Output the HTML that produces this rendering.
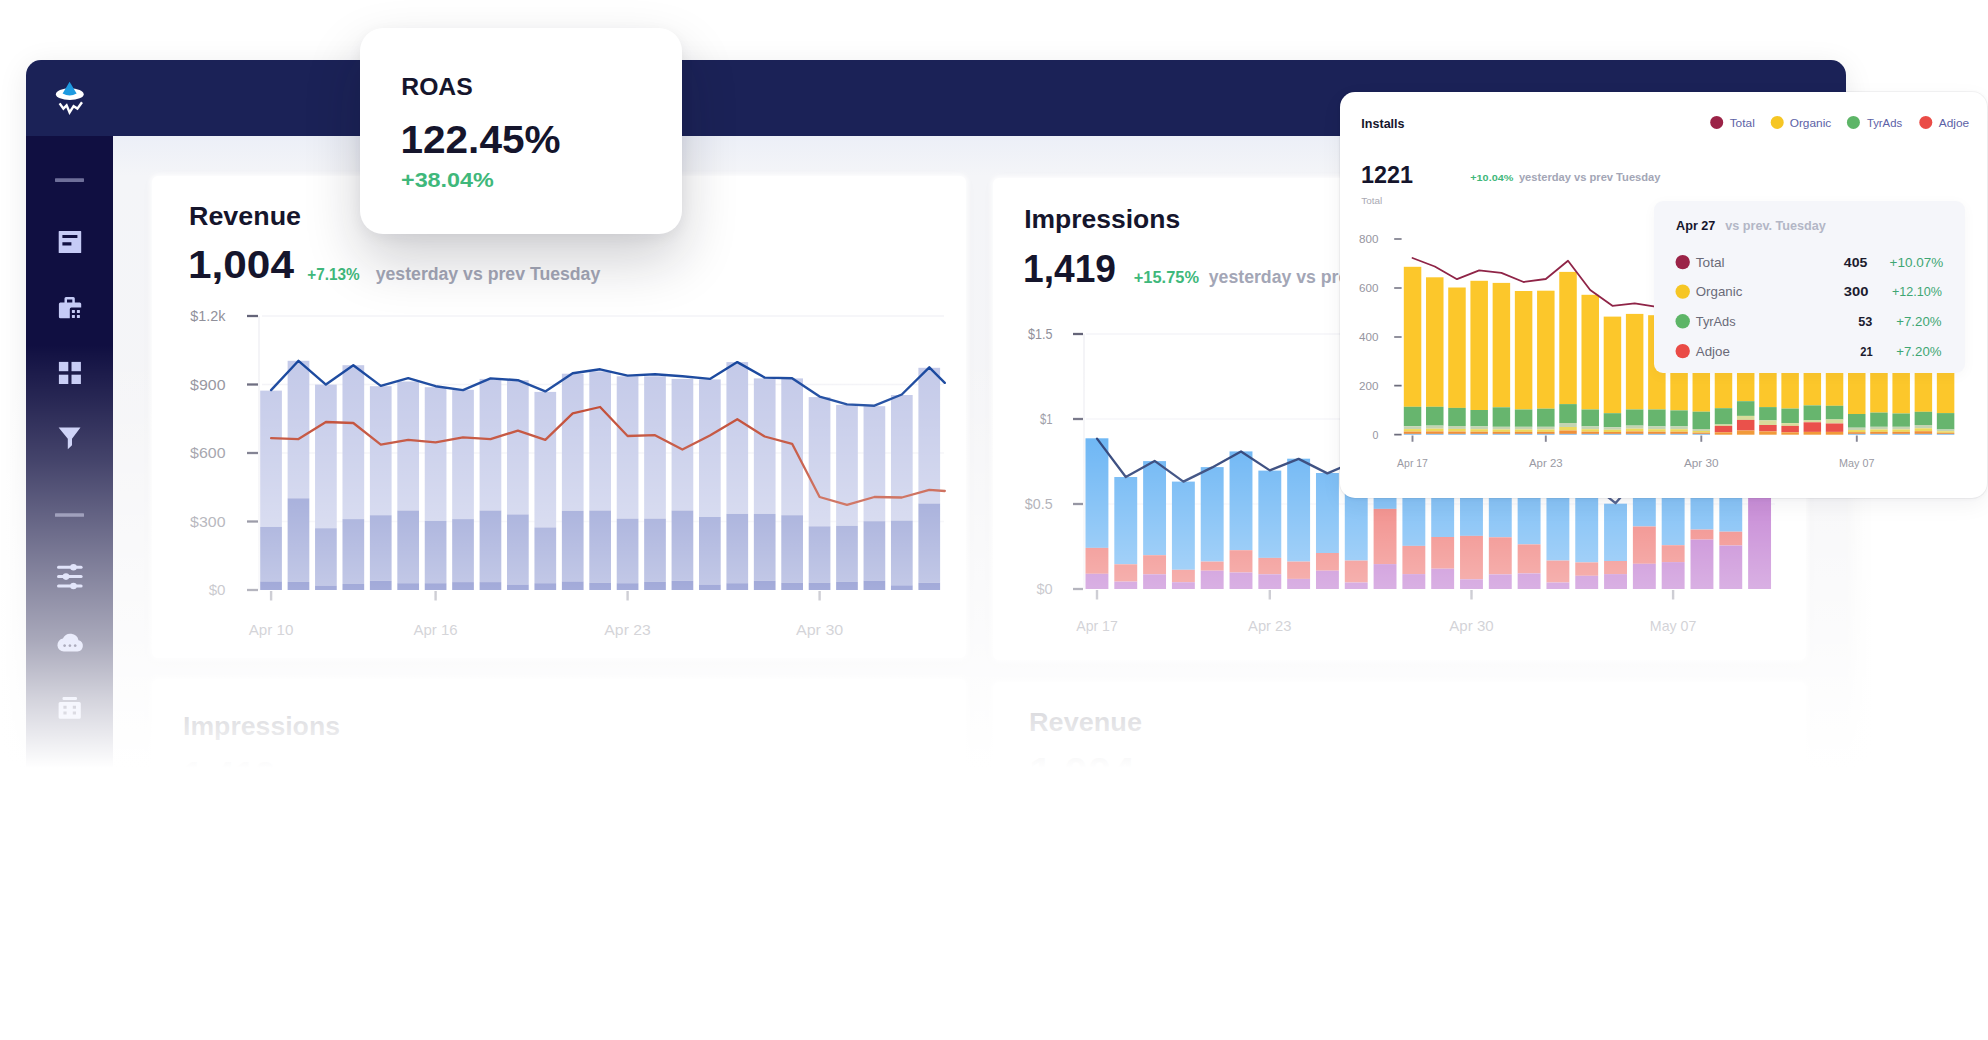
<!DOCTYPE html>
<html lang="en">
<head>
<meta charset="utf-8">
<title>Dashboard</title>
<style>
html,body{margin:0;padding:0}
body{width:1988px;height:1040px;position:relative;overflow:hidden;background:#fff;font-family:"Liberation Sans", sans-serif}
.abs{position:absolute}
svg{position:absolute;left:0;top:0;width:1988px;height:1040px;overflow:visible}
svg text{font-family:"Liberation Sans", sans-serif}
#frame{left:26px;top:60px;width:1820px;height:790px;border-radius:15px 15px 0 0;background:linear-gradient(to bottom,#ecEFf7 76px,#f4f5f8 116px,#f5f5f7 400px);overflow:hidden;
  box-shadow:0 6px 30px rgba(20,20,34,.085)}
#topbar{left:0;top:0;width:1820px;height:76px;background:#1b2257}
#side{left:0;top:76px;width:87px;height:720px;background:#100f41}
.card{background:#fff;border-radius:6px;box-shadow:0 0 5px 2px rgba(255,255,255,.9),0 2px 14px rgba(30,30,50,.03)}
#fade{left:0;top:0;width:1988px;height:1040px;
  background:linear-gradient(to bottom,rgba(255,255,255,0) 345px,rgba(255,255,255,.10) 400px,rgba(255,255,255,.22) 460px,rgba(255,255,255,.43) 550px,rgba(255,255,255,.64) 640px,rgba(255,255,255,.82) 700px,rgba(255,255,255,1) 768px)}
#roas{left:360px;top:28px;width:322px;height:206px;border-radius:23px;background:#fff;
  box-shadow:0 26px 56px rgba(20,20,36,.20),0 4px 14px rgba(20,20,36,.05)}
#inst{left:1340px;top:92px;width:647px;height:406px;border-radius:15px;background:#fff;
  box-shadow:0 7px 22px rgba(20,20,30,.05),0 1px 5px rgba(20,20,30,.045),0 0 0 1px rgba(20,20,40,.04)}
#tip{left:1654px;top:200.6px;width:311px;height:172.3px;border-radius:9px;background:#f5f6fa;
  box-shadow:0 3px 14px rgba(30,34,70,.035)}
</style>
</head>
<body>
<div id="frame" class="abs"><div id="topbar" class="abs"></div><div id="side" class="abs"></div></div>
<div class="abs card" style="left:152px;top:176px;width:814px;height:482px"></div>
<div class="abs card" style="left:992.5px;top:178px;width:813.5px;height:482px"></div>
<div class="abs card" style="left:152px;top:679px;width:814px;height:200px"></div>
<div class="abs card" style="left:992.5px;top:682px;width:813.5px;height:200px"></div>
<svg viewBox="0 0 1988 1040">
<ellipse cx="69.8" cy="94.2" rx="13.9" ry="5.9" fill="#ffffff"/>
<path d="M69.6 81.8 L76.6 93.6 Q69.6 97.6 62.6 93.6 Z" fill="#1e9ae0"/>
<path d="M59.6 103.4 L63.4 108.6 L66.6 105.4 L69.6 112.4 L73.6 106.2 L77.4 108.6 L82 102.2" fill="none" stroke="#fff" stroke-width="2.4" stroke-linejoin="miter" stroke-linecap="butt"/>
<rect x="55" y="178.3" width="29" height="3.6" rx=".6" fill="#6e6f99"/>
<rect x="55" y="513.2" width="29" height="3.6" rx=".6" fill="#6e6f99"/>
<path fill="#c6cbf6" fill-rule="evenodd" d="M59.3 230.9h21.3a.6.6 0 0 1 .6.6v20.9a.6.6 0 0 1-.6.6h-21.3a.6.6 0 0 1-.6-.6v-20.9a.6.6 0 0 1 .6-.6zM62.4 235.1v3h15v-3zM62.4 242.2v3.2h9v-3.2z"/>
<path fill="#c6cbf6" fill-rule="evenodd" d="M66 297h7.3a1.5 1.5 0 0 1 1.5 1.5v4h4.9a1.5 1.5 0 0 1 1.5 1.5v3.5h-9.9a1.5 1.5 0 0 0-1.5 1.5v9.3h-9.4a1.5 1.5 0 0 1-1.5-1.5v-12.8a1.5 1.5 0 0 1 1.5-1.5h4.1v-4a1.5 1.5 0 0 1 1.5-1.5zM67 299.4v3.1h5.3v-3.1z"/>
<rect x="71.9" y="309.9" width="3" height="3" rx=".4" fill="#c6cbf6"/>
<rect x="76.9" y="309.9" width="3" height="3" rx=".4" fill="#c6cbf6"/>
<rect x="71.9" y="314.9" width="3" height="3" rx=".4" fill="#c6cbf6"/>
<rect x="76.9" y="314.9" width="3" height="3" rx=".4" fill="#c6cbf6"/>
<rect x="58.9" y="361.9" width="9.4" height="9.3" fill="#c6cbf6"/>
<rect x="71.5" y="361.9" width="9.4" height="9.3" fill="#c6cbf6"/>
<rect x="58.9" y="374.7" width="9.4" height="9.3" fill="#c6cbf6"/>
<rect x="71.5" y="374.7" width="9.4" height="9.3" fill="#c6cbf6"/>
<path fill="#c6cbf6" d="M58.6 427.6H80.5L72 438.8V445.2L67.8 449.2V438.8Z"/>
<rect x="57" y="565.8" width="25.6" height="3" rx="1.5" fill="#c6cbf6"/>
<circle cx="73.5" cy="567.3" r="3.3" fill="#c6cbf6"/>
<rect x="57" y="575.1" width="25.6" height="3" rx="1.5" fill="#c6cbf6"/>
<circle cx="66" cy="576.6" r="3.3" fill="#c6cbf6"/>
<rect x="57" y="584.5" width="25.6" height="3" rx="1.5" fill="#c6cbf6"/>
<circle cx="73.5" cy="586" r="3.3" fill="#c6cbf6"/>
<path fill="#c6cbf6" fill-rule="evenodd" d="M63.8 651.6a6.6 6.6 0 0 1-.9-13.1 8.3 8.3 0 0 1 15.6 1.7 5.8 5.8 0 0 1-1 11.4zM64.6 644.2a1.4 1.4 0 1 0 .01 0zM69.9 644.2a1.4 1.4 0 1 0 .01 0zM75.2 644.2a1.4 1.4 0 1 0 .01 0z"/>
<rect x="62.5" y="697" width="14.5" height="3" rx="1.2" fill="#c6cbf6"/>
<path fill="#c6cbf6" fill-rule="evenodd" d="M60.2 702h19a1.6 1.6 0 0 1 1.6 1.6v13.6a1.6 1.6 0 0 1-1.6 1.6h-19a1.6 1.6 0 0 1-1.6-1.6v-13.6a1.6 1.6 0 0 1 1.6-1.6zM63.4 705.8v3h3.2v-3zM72.8 705.8v3h3.2v-3zM63.4 711.6v3h3.2v-3zM72.8 711.6v3h3.2v-3z"/>
<line x1="262" x2="944" y1="316" y2="316" stroke="#f3f3f7" stroke-width="1.5"/>
<line x1="262" x2="944" y1="384.5" y2="384.5" stroke="#f3f3f7" stroke-width="1.5"/>
<line x1="262" x2="944" y1="453" y2="453" stroke="#f3f3f7" stroke-width="1.5"/>
<line x1="262" x2="944" y1="521.5" y2="521.5" stroke="#f3f3f7" stroke-width="1.5"/>
<line x1="259" x2="259" y1="316" y2="590" stroke="#f0f0f4" stroke-width="1.5"/>
<rect x="260.20" y="390.60" width="21.70" height="136.30" fill="#c2c8e8"/>
<rect x="260.20" y="526.90" width="21.70" height="54.50" fill="#838fcd"/>
<rect x="260.20" y="581.40" width="21.70" height="8.60" fill="#4353b2"/>
<rect x="287.62" y="360.80" width="21.70" height="137.50" fill="#c2c8e8"/>
<rect x="287.62" y="498.30" width="21.70" height="83.60" fill="#838fcd"/>
<rect x="287.62" y="581.90" width="21.70" height="8.10" fill="#4353b2"/>
<rect x="315.05" y="384.60" width="21.70" height="143.60" fill="#c2c8e8"/>
<rect x="315.05" y="528.20" width="21.70" height="57.30" fill="#838fcd"/>
<rect x="315.05" y="585.50" width="21.70" height="4.50" fill="#4353b2"/>
<rect x="342.48" y="365.20" width="21.70" height="153.90" fill="#c2c8e8"/>
<rect x="342.48" y="519.10" width="21.70" height="64.90" fill="#838fcd"/>
<rect x="342.48" y="584.00" width="21.70" height="6.00" fill="#4353b2"/>
<rect x="369.90" y="386.20" width="21.70" height="129.00" fill="#c2c8e8"/>
<rect x="369.90" y="515.20" width="21.70" height="65.60" fill="#838fcd"/>
<rect x="369.90" y="580.80" width="21.70" height="9.20" fill="#4353b2"/>
<rect x="397.32" y="381.50" width="21.70" height="129.00" fill="#c2c8e8"/>
<rect x="397.32" y="510.50" width="21.70" height="72.70" fill="#838fcd"/>
<rect x="397.32" y="583.20" width="21.70" height="6.80" fill="#4353b2"/>
<rect x="424.75" y="387.20" width="21.70" height="133.70" fill="#c2c8e8"/>
<rect x="424.75" y="520.90" width="21.70" height="62.30" fill="#838fcd"/>
<rect x="424.75" y="583.20" width="21.70" height="6.80" fill="#4353b2"/>
<rect x="452.17" y="389.80" width="21.70" height="129.30" fill="#c2c8e8"/>
<rect x="452.17" y="519.10" width="21.70" height="63.00" fill="#838fcd"/>
<rect x="452.17" y="582.10" width="21.70" height="7.90" fill="#4353b2"/>
<rect x="479.60" y="378.90" width="21.70" height="131.60" fill="#c2c8e8"/>
<rect x="479.60" y="510.50" width="21.70" height="71.60" fill="#838fcd"/>
<rect x="479.60" y="582.10" width="21.70" height="7.90" fill="#4353b2"/>
<rect x="507.02" y="380.20" width="21.70" height="134.20" fill="#c2c8e8"/>
<rect x="507.02" y="514.40" width="21.70" height="70.10" fill="#838fcd"/>
<rect x="507.02" y="584.50" width="21.70" height="5.50" fill="#4353b2"/>
<rect x="534.45" y="391.90" width="21.70" height="135.50" fill="#c2c8e8"/>
<rect x="534.45" y="527.40" width="21.70" height="55.80" fill="#838fcd"/>
<rect x="534.45" y="583.20" width="21.70" height="6.80" fill="#4353b2"/>
<rect x="561.88" y="373.70" width="21.70" height="137.10" fill="#c2c8e8"/>
<rect x="561.88" y="510.80" width="21.70" height="70.60" fill="#838fcd"/>
<rect x="561.88" y="581.40" width="21.70" height="8.60" fill="#4353b2"/>
<rect x="589.30" y="371.40" width="21.70" height="139.10" fill="#c2c8e8"/>
<rect x="589.30" y="510.50" width="21.70" height="72.40" fill="#838fcd"/>
<rect x="589.30" y="582.90" width="21.70" height="7.10" fill="#4353b2"/>
<rect x="616.73" y="376.30" width="21.70" height="142.30" fill="#c2c8e8"/>
<rect x="616.73" y="518.60" width="21.70" height="64.60" fill="#838fcd"/>
<rect x="616.73" y="583.20" width="21.70" height="6.80" fill="#4353b2"/>
<rect x="644.15" y="376.30" width="21.70" height="142.30" fill="#c2c8e8"/>
<rect x="644.15" y="518.60" width="21.70" height="63.30" fill="#838fcd"/>
<rect x="644.15" y="581.90" width="21.70" height="8.10" fill="#4353b2"/>
<rect x="671.58" y="378.90" width="21.70" height="131.60" fill="#c2c8e8"/>
<rect x="671.58" y="510.50" width="21.70" height="70.30" fill="#838fcd"/>
<rect x="671.58" y="580.80" width="21.70" height="9.20" fill="#4353b2"/>
<rect x="699.00" y="379.40" width="21.70" height="137.60" fill="#c2c8e8"/>
<rect x="699.00" y="517.00" width="21.70" height="67.50" fill="#838fcd"/>
<rect x="699.00" y="584.50" width="21.70" height="5.50" fill="#4353b2"/>
<rect x="726.42" y="362.10" width="21.70" height="151.80" fill="#c2c8e8"/>
<rect x="726.42" y="513.90" width="21.70" height="69.30" fill="#838fcd"/>
<rect x="726.42" y="583.20" width="21.70" height="6.80" fill="#4353b2"/>
<rect x="753.85" y="378.40" width="21.70" height="135.50" fill="#c2c8e8"/>
<rect x="753.85" y="513.90" width="21.70" height="66.90" fill="#838fcd"/>
<rect x="753.85" y="580.80" width="21.70" height="9.20" fill="#4353b2"/>
<rect x="781.28" y="378.40" width="21.70" height="136.80" fill="#c2c8e8"/>
<rect x="781.28" y="515.20" width="21.70" height="67.70" fill="#838fcd"/>
<rect x="781.28" y="582.90" width="21.70" height="7.10" fill="#4353b2"/>
<rect x="808.70" y="397.10" width="21.70" height="129.20" fill="#c2c8e8"/>
<rect x="808.70" y="526.30" width="21.70" height="56.60" fill="#838fcd"/>
<rect x="808.70" y="582.90" width="21.70" height="7.10" fill="#4353b2"/>
<rect x="836.12" y="404.90" width="21.70" height="120.90" fill="#c2c8e8"/>
<rect x="836.12" y="525.80" width="21.70" height="56.10" fill="#838fcd"/>
<rect x="836.12" y="581.90" width="21.70" height="8.10" fill="#4353b2"/>
<rect x="863.55" y="406.20" width="21.70" height="115.00" fill="#c2c8e8"/>
<rect x="863.55" y="521.20" width="21.70" height="59.40" fill="#838fcd"/>
<rect x="863.55" y="580.60" width="21.70" height="9.40" fill="#4353b2"/>
<rect x="890.97" y="395.00" width="21.70" height="125.60" fill="#c2c8e8"/>
<rect x="890.97" y="520.60" width="21.70" height="64.70" fill="#838fcd"/>
<rect x="890.97" y="585.30" width="21.70" height="4.70" fill="#4353b2"/>
<rect x="918.40" y="367.80" width="21.70" height="135.70" fill="#c2c8e8"/>
<rect x="918.40" y="503.50" width="21.70" height="79.20" fill="#838fcd"/>
<rect x="918.40" y="582.70" width="21.70" height="7.30" fill="#4353b2"/>
<polyline points="271.1,438.1 298.5,439.1 325.9,422.0 353.3,423.0 380.8,444.6 408.2,439.9 435.6,442.3 463.0,437.3 490.5,439.1 517.9,430.6 545.3,439.9 572.7,413.4 600.1,407.0 627.6,436.0 655.0,435.2 682.4,449.5 709.9,435.5 737.3,419.2 764.7,436.5 792.1,443.8 819.6,497.0 847.0,504.8 874.4,497.0 901.8,497.5 929.3,489.8 944.8,491.0" fill="none" stroke="#bb381f" stroke-width="2.3" stroke-linejoin="round" stroke-linecap="round"/>
<polyline points="271.1,390.1 298.5,360.8 325.9,384.6 353.3,365.2 380.8,385.9 408.2,378.2 435.6,386.2 463.0,390.1 490.5,378.4 517.9,380.2 545.3,391.4 572.7,373.2 600.1,369.3 627.6,375.6 655.0,374.3 682.4,376.3 709.9,378.9 737.3,362.1 764.7,377.6 792.1,378.2 819.6,396.6 847.0,404.4 874.4,405.7 901.8,394.5 929.3,367.3 944.8,382.8" fill="none" stroke="#10409a" stroke-width="2.4" stroke-linejoin="round" stroke-linecap="round"/>
<text x="190.3" y="321.0" font-size="14.3" font-weight="400" fill="#90909a" text-anchor="start" textLength="35.2" lengthAdjust="spacingAndGlyphs">$1.2k</text>
<line x1="247" x2="258" y1="316" y2="316" stroke="#646478" stroke-width="2.3"/>
<text x="190.1" y="389.5" font-size="14.3" font-weight="400" fill="#90909a" text-anchor="start" textLength="35.4" lengthAdjust="spacingAndGlyphs">$900</text>
<line x1="247" x2="258" y1="384.5" y2="384.5" stroke="#646478" stroke-width="2.3"/>
<text x="190.1" y="458.0" font-size="14.3" font-weight="400" fill="#90909a" text-anchor="start" textLength="35.4" lengthAdjust="spacingAndGlyphs">$600</text>
<line x1="247" x2="258" y1="453" y2="453" stroke="#646478" stroke-width="2.3"/>
<text x="190.1" y="526.5" font-size="14.3" font-weight="400" fill="#90909a" text-anchor="start" textLength="35.4" lengthAdjust="spacingAndGlyphs">$300</text>
<line x1="247" x2="258" y1="521.5" y2="521.5" stroke="#646478" stroke-width="2.3"/>
<text x="208.7" y="595.0" font-size="14.3" font-weight="400" fill="#90909a" text-anchor="start" textLength="16.8" lengthAdjust="spacingAndGlyphs">$0</text>
<line x1="247" x2="258" y1="590" y2="590" stroke="#646478" stroke-width="2.3"/>
<line x1="271.1" x2="271.1" y1="591" y2="600.5" stroke="#9696a4" stroke-width="2.4"/>
<text x="271.1" y="634.5" font-size="14.3" font-weight="400" fill="#8f8f9a" text-anchor="middle" textLength="44.7" lengthAdjust="spacingAndGlyphs">Apr 10</text>
<line x1="435.6" x2="435.6" y1="591" y2="600.5" stroke="#9696a4" stroke-width="2.4"/>
<text x="435.6" y="634.5" font-size="14.3" font-weight="400" fill="#8f8f9a" text-anchor="middle" textLength="44.2" lengthAdjust="spacingAndGlyphs">Apr 16</text>
<line x1="627.6" x2="627.6" y1="591" y2="600.5" stroke="#9696a4" stroke-width="2.4"/>
<text x="627.6" y="634.5" font-size="14.3" font-weight="400" fill="#8f8f9a" text-anchor="middle" textLength="46.5" lengthAdjust="spacingAndGlyphs">Apr 23</text>
<line x1="819.6" x2="819.6" y1="591" y2="600.5" stroke="#9696a4" stroke-width="2.4"/>
<text x="819.6" y="634.5" font-size="14.3" font-weight="400" fill="#8f8f9a" text-anchor="middle" textLength="47.3" lengthAdjust="spacingAndGlyphs">Apr 30</text>
<line x1="1086" x2="1775" y1="334" y2="334" stroke="#f5f5f8" stroke-width="1.5"/>
<line x1="1086" x2="1775" y1="419" y2="419" stroke="#f5f5f8" stroke-width="1.5"/>
<line x1="1086" x2="1775" y1="504" y2="504" stroke="#f5f5f8" stroke-width="1.5"/>
<line x1="1084" x2="1084" y1="334" y2="589" stroke="#f0f0f4" stroke-width="1.5"/>
<rect x="1085.50" y="438.30" width="22.90" height="109.60" fill="#51a8f2"/>
<rect x="1085.50" y="547.90" width="22.90" height="25.90" fill="#ec5f5a"/>
<rect x="1085.50" y="573.80" width="22.90" height="15.20" fill="#b05ac5"/>
<rect x="1114.31" y="477.00" width="22.90" height="87.30" fill="#51a8f2"/>
<rect x="1114.31" y="564.30" width="22.90" height="17.30" fill="#ec5f5a"/>
<rect x="1114.31" y="581.60" width="22.90" height="7.40" fill="#b05ac5"/>
<rect x="1143.12" y="461.10" width="22.90" height="94.10" fill="#51a8f2"/>
<rect x="1143.12" y="555.20" width="22.90" height="19.10" fill="#ec5f5a"/>
<rect x="1143.12" y="574.30" width="22.90" height="14.70" fill="#b05ac5"/>
<rect x="1171.93" y="481.60" width="22.90" height="88.20" fill="#51a8f2"/>
<rect x="1171.93" y="569.80" width="22.90" height="12.40" fill="#ec5f5a"/>
<rect x="1171.93" y="582.20" width="22.90" height="6.80" fill="#b05ac5"/>
<rect x="1200.74" y="467.10" width="22.90" height="94.50" fill="#51a8f2"/>
<rect x="1200.74" y="561.60" width="22.90" height="9.10" fill="#ec5f5a"/>
<rect x="1200.74" y="570.70" width="22.90" height="18.30" fill="#b05ac5"/>
<rect x="1229.55" y="451.40" width="22.90" height="98.80" fill="#51a8f2"/>
<rect x="1229.55" y="550.20" width="22.90" height="22.30" fill="#ec5f5a"/>
<rect x="1229.55" y="572.50" width="22.90" height="16.50" fill="#b05ac5"/>
<rect x="1258.36" y="470.60" width="22.90" height="87.30" fill="#51a8f2"/>
<rect x="1258.36" y="557.90" width="22.90" height="16.40" fill="#ec5f5a"/>
<rect x="1258.36" y="574.30" width="22.90" height="14.70" fill="#b05ac5"/>
<rect x="1287.17" y="458.70" width="22.90" height="102.90" fill="#51a8f2"/>
<rect x="1287.17" y="561.60" width="22.90" height="17.30" fill="#ec5f5a"/>
<rect x="1287.17" y="578.90" width="22.90" height="10.10" fill="#b05ac5"/>
<rect x="1315.98" y="473.00" width="22.90" height="80.00" fill="#51a8f2"/>
<rect x="1315.98" y="553.00" width="22.90" height="17.70" fill="#ec5f5a"/>
<rect x="1315.98" y="570.70" width="22.90" height="18.30" fill="#b05ac5"/>
<rect x="1344.79" y="462.00" width="22.90" height="98.60" fill="#51a8f2"/>
<rect x="1344.79" y="560.60" width="22.90" height="21.90" fill="#ec5f5a"/>
<rect x="1344.79" y="582.50" width="22.90" height="6.50" fill="#b05ac5"/>
<rect x="1373.60" y="455.00" width="22.90" height="53.90" fill="#51a8f2"/>
<rect x="1373.60" y="508.90" width="22.90" height="55.20" fill="#ec5f5a"/>
<rect x="1373.60" y="564.10" width="22.90" height="24.90" fill="#b05ac5"/>
<rect x="1402.41" y="470.00" width="22.90" height="75.90" fill="#51a8f2"/>
<rect x="1402.41" y="545.90" width="22.90" height="28.20" fill="#ec5f5a"/>
<rect x="1402.41" y="574.10" width="22.90" height="14.90" fill="#b05ac5"/>
<rect x="1431.22" y="460.00" width="22.90" height="77.00" fill="#51a8f2"/>
<rect x="1431.22" y="537.00" width="22.90" height="31.70" fill="#ec5f5a"/>
<rect x="1431.22" y="568.70" width="22.90" height="20.30" fill="#b05ac5"/>
<rect x="1460.03" y="452.00" width="22.90" height="83.90" fill="#51a8f2"/>
<rect x="1460.03" y="535.90" width="22.90" height="43.40" fill="#ec5f5a"/>
<rect x="1460.03" y="579.30" width="22.90" height="9.70" fill="#b05ac5"/>
<rect x="1488.84" y="466.00" width="22.90" height="71.30" fill="#51a8f2"/>
<rect x="1488.84" y="537.30" width="22.90" height="37.10" fill="#ec5f5a"/>
<rect x="1488.84" y="574.40" width="22.90" height="14.60" fill="#b05ac5"/>
<rect x="1517.65" y="458.00" width="22.90" height="86.40" fill="#51a8f2"/>
<rect x="1517.65" y="544.40" width="22.90" height="29.00" fill="#ec5f5a"/>
<rect x="1517.65" y="573.40" width="22.90" height="15.60" fill="#b05ac5"/>
<rect x="1546.46" y="472.00" width="22.90" height="88.60" fill="#51a8f2"/>
<rect x="1546.46" y="560.60" width="22.90" height="21.90" fill="#ec5f5a"/>
<rect x="1546.46" y="582.50" width="22.90" height="6.50" fill="#b05ac5"/>
<rect x="1575.27" y="480.00" width="22.90" height="82.40" fill="#51a8f2"/>
<rect x="1575.27" y="562.40" width="22.90" height="13.40" fill="#ec5f5a"/>
<rect x="1575.27" y="575.80" width="22.90" height="13.20" fill="#b05ac5"/>
<rect x="1604.08" y="503.70" width="22.90" height="57.30" fill="#51a8f2"/>
<rect x="1604.08" y="561.00" width="22.90" height="13.10" fill="#ec5f5a"/>
<rect x="1604.08" y="574.10" width="22.90" height="14.90" fill="#b05ac5"/>
<rect x="1632.89" y="470.00" width="22.90" height="56.50" fill="#51a8f2"/>
<rect x="1632.89" y="526.50" width="22.90" height="37.30" fill="#ec5f5a"/>
<rect x="1632.89" y="563.80" width="22.90" height="25.20" fill="#b05ac5"/>
<rect x="1661.70" y="462.00" width="22.90" height="83.20" fill="#51a8f2"/>
<rect x="1661.70" y="545.20" width="22.90" height="16.90" fill="#ec5f5a"/>
<rect x="1661.70" y="562.10" width="22.90" height="26.90" fill="#b05ac5"/>
<rect x="1690.51" y="476.00" width="22.90" height="53.60" fill="#51a8f2"/>
<rect x="1690.51" y="529.60" width="22.90" height="10.00" fill="#ec5f5a"/>
<rect x="1690.51" y="539.60" width="22.90" height="49.40" fill="#b05ac5"/>
<rect x="1719.32" y="468.00" width="22.90" height="63.70" fill="#51a8f2"/>
<rect x="1719.32" y="531.70" width="22.90" height="13.80" fill="#ec5f5a"/>
<rect x="1719.32" y="545.50" width="22.90" height="43.50" fill="#b05ac5"/>


<rect x="1748.13" y="440.00" width="22.90" height="149.00" fill="#b05ac5"/>
<polyline points="1097.0,438.6 1125.8,477.0 1154.6,460.9 1183.4,481.6 1212.2,467.4 1241.0,451.5 1269.8,470.4 1298.6,458.9 1327.4,473.4 1356.2,461.0 1385.0,455.0 1413.9,470.0 1442.7,460.0 1471.5,452.0 1500.3,466.0 1529.1,458.0 1557.9,472.0 1586.7,480.0 1615.5,503.2 1644.3,470.0 1673.1,462.0 1702.0,476.0 1730.8,468.0 1759.6,440.0" fill="none" stroke="#061e5e" stroke-width="2.3" stroke-linejoin="round" stroke-linecap="round"/>
<text x="1028.1" y="339.0" font-size="14.3" font-weight="400" fill="#90909a" text-anchor="start" textLength="24.5" lengthAdjust="spacingAndGlyphs">$1.5</text>
<line x1="1073" x2="1083" y1="334" y2="334" stroke="#646478" stroke-width="2.3"/>
<text x="1040.0" y="424.0" font-size="14.3" font-weight="400" fill="#90909a" text-anchor="start" textLength="12.6" lengthAdjust="spacingAndGlyphs">$1</text>
<line x1="1073" x2="1083" y1="419" y2="419" stroke="#646478" stroke-width="2.3"/>
<text x="1024.8" y="509.0" font-size="14.3" font-weight="400" fill="#90909a" text-anchor="start" textLength="27.8" lengthAdjust="spacingAndGlyphs">$0.5</text>
<line x1="1073" x2="1083" y1="504" y2="504" stroke="#646478" stroke-width="2.3"/>
<text x="1036.4" y="594.0" font-size="14.3" font-weight="400" fill="#90909a" text-anchor="start" textLength="16.2" lengthAdjust="spacingAndGlyphs">$0</text>
<line x1="1073" x2="1083" y1="589" y2="589" stroke="#646478" stroke-width="2.3"/>
<line x1="1097.0" x2="1097.0" y1="590" y2="599.5" stroke="#9696a4" stroke-width="2.4"/>
<text x="1097.0" y="630.5" font-size="14.3" font-weight="400" fill="#8f8f9a" text-anchor="middle" textLength="41.5" lengthAdjust="spacingAndGlyphs">Apr 17</text>
<line x1="1269.8" x2="1269.8" y1="590" y2="599.5" stroke="#9696a4" stroke-width="2.4"/>
<text x="1269.8" y="630.5" font-size="14.3" font-weight="400" fill="#8f8f9a" text-anchor="middle" textLength="43.5" lengthAdjust="spacingAndGlyphs">Apr 23</text>
<line x1="1471.5" x2="1471.5" y1="590" y2="599.5" stroke="#9696a4" stroke-width="2.4"/>
<text x="1471.5" y="630.5" font-size="14.3" font-weight="400" fill="#8f8f9a" text-anchor="middle" textLength="44.3" lengthAdjust="spacingAndGlyphs">Apr 30</text>
<line x1="1673.1" x2="1673.1" y1="590" y2="599.5" stroke="#9696a4" stroke-width="2.4"/>
<text x="1673.1" y="630.5" font-size="14.3" font-weight="400" fill="#8f8f9a" text-anchor="middle" textLength="46.6" lengthAdjust="spacingAndGlyphs">May 07</text>
<text x="189.0" y="225.4" font-size="25" font-weight="700" fill="#15152c" text-anchor="start" textLength="112.0" lengthAdjust="spacingAndGlyphs">Revenue</text>
<text x="188.0" y="278.2" font-size="38.5" font-weight="700" fill="#15152c" text-anchor="start" textLength="106.0" lengthAdjust="spacingAndGlyphs">1,004</text>
<text x="307.3" y="279.5" font-size="16.3" font-weight="700" fill="#3fb87b" text-anchor="start" textLength="52.3" lengthAdjust="spacingAndGlyphs">+7.13%</text>
<text x="375.7" y="279.5" font-size="17.5" font-weight="700" fill="#a3a6b6" text-anchor="start" textLength="224.6" lengthAdjust="spacingAndGlyphs">yesterday vs prev Tuesday</text>
<text x="1024.2" y="228.3" font-size="25" font-weight="700" fill="#15152c" text-anchor="start" textLength="156.0" lengthAdjust="spacingAndGlyphs">Impressions</text>
<text x="1023.0" y="282.1" font-size="38.5" font-weight="700" fill="#15152c" text-anchor="start" textLength="93.0" lengthAdjust="spacingAndGlyphs">1,419</text>
<text x="1133.8" y="283.0" font-size="16.3" font-weight="700" fill="#3fb87b" text-anchor="start" textLength="65.2" lengthAdjust="spacingAndGlyphs">+15.75%</text>
<text x="1208.8" y="283.0" font-size="17.5" font-weight="700" fill="#a3a6b6" text-anchor="start" textLength="224.6" lengthAdjust="spacingAndGlyphs">yesterday vs prev Tuesday</text>
<text x="183.0" y="734.5" font-size="25" font-weight="700" fill="#15152c" text-anchor="start" textLength="157.0" lengthAdjust="spacingAndGlyphs">Impressions</text>
<text x="183.0" y="789.0" font-size="38.5" font-weight="700" fill="#15152c" text-anchor="start" textLength="93.0" lengthAdjust="spacingAndGlyphs">1,419</text>
<text x="1029.0" y="731.0" font-size="25" font-weight="700" fill="#15152c" text-anchor="start" textLength="113.0" lengthAdjust="spacingAndGlyphs">Revenue</text>
<text x="1029.0" y="785.0" font-size="38.5" font-weight="700" fill="#15152c" text-anchor="start" textLength="106.0" lengthAdjust="spacingAndGlyphs">1,004</text>
</svg>
<div id="fade" class="abs"></div>
<div id="roas" class="abs"></div>
<div id="inst" class="abs"></div>
<svg viewBox="0 0 1988 1040">
<defs><clipPath id="instclip"><rect x="1340" y="92" width="647" height="406" rx="15"/></clipPath></defs>
<g clip-path="url(#instclip)">
<rect x="1403.80" y="266.80" width="17.50" height="140.00" fill="#fcc72b"/>
<rect x="1403.80" y="406.80" width="17.50" height="19.40" fill="#67b56e"/>
<rect x="1403.80" y="426.20" width="17.50" height="2.89" fill="#c4d4b2"/>
<rect x="1403.80" y="429.09" width="17.50" height="2.55" fill="#ecd95c"/>
<rect x="1403.80" y="431.64" width="17.50" height="2.26" fill="#f0903a"/>
<rect x="1403.80" y="433.90" width="17.50" height="0.80" fill="#7bb4e6"/>
<rect x="1426.01" y="277.30" width="17.50" height="129.50" fill="#fcc72b"/>
<rect x="1426.01" y="406.80" width="17.50" height="18.80" fill="#67b56e"/>
<rect x="1426.01" y="425.60" width="17.50" height="3.09" fill="#c4d4b2"/>
<rect x="1426.01" y="428.69" width="17.50" height="2.73" fill="#ecd95c"/>
<rect x="1426.01" y="431.42" width="17.50" height="2.48" fill="#f0903a"/>
<rect x="1426.01" y="433.90" width="17.50" height="0.80" fill="#7bb4e6"/>
<rect x="1448.22" y="287.50" width="17.50" height="120.40" fill="#fcc72b"/>
<rect x="1448.22" y="407.90" width="17.50" height="18.10" fill="#67b56e"/>
<rect x="1448.22" y="426.00" width="17.50" height="2.96" fill="#c4d4b2"/>
<rect x="1448.22" y="428.96" width="17.50" height="2.61" fill="#ecd95c"/>
<rect x="1448.22" y="431.57" width="17.50" height="2.33" fill="#f0903a"/>
<rect x="1448.22" y="433.90" width="17.50" height="0.80" fill="#7bb4e6"/>
<rect x="1470.43" y="280.80" width="17.50" height="129.20" fill="#fcc72b"/>
<rect x="1470.43" y="410.00" width="17.50" height="16.40" fill="#67b56e"/>
<rect x="1470.43" y="426.40" width="17.50" height="2.82" fill="#c4d4b2"/>
<rect x="1470.43" y="429.22" width="17.50" height="2.49" fill="#ecd95c"/>
<rect x="1470.43" y="431.71" width="17.50" height="2.19" fill="#f0903a"/>
<rect x="1470.43" y="433.90" width="17.50" height="0.80" fill="#7bb4e6"/>
<rect x="1492.64" y="282.90" width="17.50" height="124.40" fill="#fcc72b"/>
<rect x="1492.64" y="407.30" width="17.50" height="19.50" fill="#67b56e"/>
<rect x="1492.64" y="426.80" width="17.50" height="2.69" fill="#c4d4b2"/>
<rect x="1492.64" y="429.49" width="17.50" height="2.37" fill="#ecd95c"/>
<rect x="1492.64" y="431.86" width="17.50" height="2.04" fill="#f0903a"/>
<rect x="1492.64" y="433.90" width="17.50" height="0.80" fill="#7bb4e6"/>
<rect x="1514.85" y="291.00" width="17.50" height="118.50" fill="#fcc72b"/>
<rect x="1514.85" y="409.50" width="17.50" height="17.30" fill="#67b56e"/>
<rect x="1514.85" y="426.80" width="17.50" height="2.69" fill="#c4d4b2"/>
<rect x="1514.85" y="429.49" width="17.50" height="2.37" fill="#ecd95c"/>
<rect x="1514.85" y="431.86" width="17.50" height="2.04" fill="#f0903a"/>
<rect x="1514.85" y="433.90" width="17.50" height="0.80" fill="#7bb4e6"/>
<rect x="1537.06" y="290.70" width="17.50" height="118.00" fill="#fcc72b"/>
<rect x="1537.06" y="408.70" width="17.50" height="18.10" fill="#67b56e"/>
<rect x="1537.06" y="426.80" width="17.50" height="2.69" fill="#c4d4b2"/>
<rect x="1537.06" y="429.49" width="17.50" height="2.37" fill="#ecd95c"/>
<rect x="1537.06" y="431.86" width="17.50" height="2.04" fill="#f0903a"/>
<rect x="1537.06" y="433.90" width="17.50" height="0.80" fill="#7bb4e6"/>
<rect x="1559.27" y="271.90" width="17.50" height="132.20" fill="#fcc72b"/>
<rect x="1559.27" y="404.10" width="17.50" height="18.90" fill="#67b56e"/>
<rect x="1559.27" y="423.00" width="17.50" height="3.98" fill="#c4d4b2"/>
<rect x="1559.27" y="426.98" width="17.50" height="3.51" fill="#ecd95c"/>
<rect x="1559.27" y="430.49" width="17.50" height="3.41" fill="#f0903a"/>
<rect x="1559.27" y="433.90" width="17.50" height="0.80" fill="#7bb4e6"/>
<rect x="1581.48" y="294.80" width="17.50" height="114.70" fill="#fcc72b"/>
<rect x="1581.48" y="409.50" width="17.50" height="16.90" fill="#67b56e"/>
<rect x="1581.48" y="426.40" width="17.50" height="2.82" fill="#c4d4b2"/>
<rect x="1581.48" y="429.22" width="17.50" height="2.49" fill="#ecd95c"/>
<rect x="1581.48" y="431.71" width="17.50" height="2.19" fill="#f0903a"/>
<rect x="1581.48" y="433.90" width="17.50" height="0.80" fill="#7bb4e6"/>
<rect x="1603.69" y="316.60" width="17.50" height="96.60" fill="#fcc72b"/>
<rect x="1603.69" y="413.20" width="17.50" height="14.00" fill="#67b56e"/>
<rect x="1603.69" y="427.20" width="17.50" height="2.55" fill="#c4d4b2"/>
<rect x="1603.69" y="429.75" width="17.50" height="2.25" fill="#ecd95c"/>
<rect x="1603.69" y="432.00" width="17.50" height="1.90" fill="#f0903a"/>
<rect x="1603.69" y="433.90" width="17.50" height="0.80" fill="#7bb4e6"/>
<rect x="1625.90" y="313.90" width="17.50" height="95.60" fill="#fcc72b"/>
<rect x="1625.90" y="409.50" width="17.50" height="16.10" fill="#67b56e"/>
<rect x="1625.90" y="425.60" width="17.50" height="3.09" fill="#c4d4b2"/>
<rect x="1625.90" y="428.69" width="17.50" height="2.73" fill="#ecd95c"/>
<rect x="1625.90" y="431.42" width="17.50" height="2.48" fill="#f0903a"/>
<rect x="1625.90" y="433.90" width="17.50" height="0.80" fill="#7bb4e6"/>
<rect x="1648.11" y="315.20" width="17.50" height="94.30" fill="#fcc72b"/>
<rect x="1648.11" y="409.50" width="17.50" height="16.90" fill="#67b56e"/>
<rect x="1648.11" y="426.40" width="17.50" height="2.82" fill="#c4d4b2"/>
<rect x="1648.11" y="429.22" width="17.50" height="2.49" fill="#ecd95c"/>
<rect x="1648.11" y="431.71" width="17.50" height="2.19" fill="#f0903a"/>
<rect x="1648.11" y="433.90" width="17.50" height="0.80" fill="#7bb4e6"/>
<rect x="1670.32" y="318.00" width="17.50" height="92.40" fill="#fcc72b"/>
<rect x="1670.32" y="410.40" width="17.50" height="16.00" fill="#67b56e"/>
<rect x="1670.32" y="426.40" width="17.50" height="2.82" fill="#c4d4b2"/>
<rect x="1670.32" y="429.22" width="17.50" height="2.49" fill="#ecd95c"/>
<rect x="1670.32" y="431.71" width="17.50" height="2.19" fill="#f0903a"/>
<rect x="1670.32" y="433.90" width="17.50" height="0.80" fill="#7bb4e6"/>
<rect x="1692.53" y="318.00" width="17.50" height="93.70" fill="#fcc72b"/>
<rect x="1692.53" y="411.70" width="17.50" height="17.30" fill="#67b56e"/>
<rect x="1692.53" y="429.00" width="17.50" height="1.94" fill="#c4d4b2"/>
<rect x="1692.53" y="430.94" width="17.50" height="1.71" fill="#ecd95c"/>
<rect x="1692.53" y="432.65" width="17.50" height="1.25" fill="#f0903a"/>
<rect x="1692.53" y="433.90" width="17.50" height="0.80" fill="#7bb4e6"/>
<rect x="1714.74" y="318.00" width="17.50" height="90.20" fill="#fcc72b"/>
<rect x="1714.74" y="408.20" width="17.50" height="16.30" fill="#67b56e"/>
<rect x="1714.74" y="424.50" width="17.50" height="1.40" fill="#d9dc9a"/>
<rect x="1714.74" y="425.90" width="17.50" height="6.40" fill="#ea514b"/>
<rect x="1714.74" y="432.30" width="17.50" height="2.40" fill="#f19a3a"/>
<rect x="1736.95" y="318.00" width="17.50" height="83.20" fill="#fcc72b"/>
<rect x="1736.95" y="401.20" width="17.50" height="14.70" fill="#67b56e"/>
<rect x="1736.95" y="415.90" width="17.50" height="4.00" fill="#d9dc9a"/>
<rect x="1736.95" y="419.90" width="17.50" height="10.60" fill="#ea514b"/>
<rect x="1736.95" y="430.50" width="17.50" height="4.20" fill="#f19a3a"/>
<rect x="1759.16" y="318.00" width="17.50" height="89.10" fill="#fcc72b"/>
<rect x="1759.16" y="407.10" width="17.50" height="13.30" fill="#67b56e"/>
<rect x="1759.16" y="420.40" width="17.50" height="4.60" fill="#d9dc9a"/>
<rect x="1759.16" y="425.00" width="17.50" height="6.40" fill="#ea514b"/>
<rect x="1759.16" y="431.40" width="17.50" height="3.30" fill="#f19a3a"/>
<rect x="1781.37" y="318.00" width="17.50" height="90.60" fill="#fcc72b"/>
<rect x="1781.37" y="408.60" width="17.50" height="14.60" fill="#67b56e"/>
<rect x="1781.37" y="423.20" width="17.50" height="2.70" fill="#d9dc9a"/>
<rect x="1781.37" y="425.90" width="17.50" height="6.40" fill="#ea514b"/>
<rect x="1781.37" y="432.30" width="17.50" height="2.40" fill="#f19a3a"/>
<rect x="1803.58" y="318.00" width="17.50" height="87.40" fill="#fcc72b"/>
<rect x="1803.58" y="405.40" width="17.50" height="15.00" fill="#67b56e"/>
<rect x="1803.58" y="420.40" width="17.50" height="1.90" fill="#d9dc9a"/>
<rect x="1803.58" y="422.30" width="17.50" height="9.60" fill="#ea514b"/>
<rect x="1803.58" y="431.90" width="17.50" height="2.80" fill="#f19a3a"/>
<rect x="1825.79" y="318.00" width="17.50" height="87.80" fill="#fcc72b"/>
<rect x="1825.79" y="405.80" width="17.50" height="13.70" fill="#67b56e"/>
<rect x="1825.79" y="419.50" width="17.50" height="4.00" fill="#d9dc9a"/>
<rect x="1825.79" y="423.50" width="17.50" height="8.40" fill="#ea514b"/>
<rect x="1825.79" y="431.90" width="17.50" height="2.80" fill="#f19a3a"/>
<rect x="1848.00" y="318.00" width="17.50" height="96.00" fill="#fcc72b"/>
<rect x="1848.00" y="414.00" width="17.50" height="13.70" fill="#67b56e"/>
<rect x="1848.00" y="427.70" width="17.50" height="2.38" fill="#c4d4b2"/>
<rect x="1848.00" y="430.08" width="17.50" height="2.10" fill="#ecd95c"/>
<rect x="1848.00" y="432.18" width="17.50" height="1.72" fill="#f0903a"/>
<rect x="1848.00" y="433.90" width="17.50" height="0.80" fill="#7bb4e6"/>
<rect x="1870.21" y="318.00" width="17.50" height="94.60" fill="#fcc72b"/>
<rect x="1870.21" y="412.60" width="17.50" height="14.20" fill="#67b56e"/>
<rect x="1870.21" y="426.80" width="17.50" height="2.69" fill="#c4d4b2"/>
<rect x="1870.21" y="429.49" width="17.50" height="2.37" fill="#ecd95c"/>
<rect x="1870.21" y="431.86" width="17.50" height="2.04" fill="#f0903a"/>
<rect x="1870.21" y="433.90" width="17.50" height="0.80" fill="#7bb4e6"/>
<rect x="1892.42" y="318.00" width="17.50" height="95.50" fill="#fcc72b"/>
<rect x="1892.42" y="413.50" width="17.50" height="13.30" fill="#67b56e"/>
<rect x="1892.42" y="426.80" width="17.50" height="2.69" fill="#c4d4b2"/>
<rect x="1892.42" y="429.49" width="17.50" height="2.37" fill="#ecd95c"/>
<rect x="1892.42" y="431.86" width="17.50" height="2.04" fill="#f0903a"/>
<rect x="1892.42" y="433.90" width="17.50" height="0.80" fill="#7bb4e6"/>
<rect x="1914.63" y="318.00" width="17.50" height="93.80" fill="#fcc72b"/>
<rect x="1914.63" y="411.80" width="17.50" height="13.20" fill="#67b56e"/>
<rect x="1914.63" y="425.00" width="17.50" height="3.30" fill="#c4d4b2"/>
<rect x="1914.63" y="428.30" width="17.50" height="2.91" fill="#ecd95c"/>
<rect x="1914.63" y="431.21" width="17.50" height="2.69" fill="#f0903a"/>
<rect x="1914.63" y="433.90" width="17.50" height="0.80" fill="#7bb4e6"/>
<rect x="1936.84" y="318.00" width="17.50" height="95.10" fill="#fcc72b"/>
<rect x="1936.84" y="413.10" width="17.50" height="16.40" fill="#67b56e"/>
<rect x="1936.84" y="429.50" width="17.50" height="1.77" fill="#c4d4b2"/>
<rect x="1936.84" y="431.27" width="17.50" height="1.56" fill="#ecd95c"/>
<rect x="1936.84" y="432.83" width="17.50" height="1.07" fill="#f0903a"/>
<rect x="1936.84" y="433.90" width="17.50" height="0.80" fill="#7bb4e6"/>
<polyline points="1412.5,258.0 1434.8,266.5 1457.0,279.2 1479.2,270.4 1501.4,272.8 1523.6,282.0 1545.8,279.0 1568.0,260.8 1590.2,290.0 1612.4,305.8 1634.7,303.3 1656.9,306.9 1679.1,309.0" fill="none" stroke="#8f2447" stroke-width="1.8" stroke-linejoin="round" stroke-linecap="round"/>
<text x="1378.4" y="242.8" font-size="10.6" font-weight="400" fill="#96969f" text-anchor="end" textLength="19.4" lengthAdjust="spacingAndGlyphs">800</text>
<line x1="1394.2" x2="1401.6" y1="239" y2="239" stroke="#6c6c7c" stroke-width="1.7"/>
<text x="1378.4" y="291.8" font-size="10.6" font-weight="400" fill="#96969f" text-anchor="end" textLength="19.4" lengthAdjust="spacingAndGlyphs">600</text>
<line x1="1394.2" x2="1401.6" y1="288" y2="288" stroke="#6c6c7c" stroke-width="1.7"/>
<text x="1378.4" y="340.8" font-size="10.6" font-weight="400" fill="#96969f" text-anchor="end" textLength="19.4" lengthAdjust="spacingAndGlyphs">400</text>
<line x1="1394.2" x2="1401.6" y1="337" y2="337" stroke="#6c6c7c" stroke-width="1.7"/>
<text x="1378.4" y="389.5" font-size="10.6" font-weight="400" fill="#96969f" text-anchor="end" textLength="19.4" lengthAdjust="spacingAndGlyphs">200</text>
<line x1="1394.2" x2="1401.6" y1="385.7" y2="385.7" stroke="#6c6c7c" stroke-width="1.7"/>
<text x="1378.4" y="438.5" font-size="10.6" font-weight="400" fill="#96969f" text-anchor="end">0</text>
<line x1="1394.2" x2="1401.6" y1="434.7" y2="434.7" stroke="#6c6c7c" stroke-width="1.7"/>
<line x1="1412.5" x2="1412.5" y1="435.5" y2="441.8" stroke="#858594" stroke-width="1.9"/>
<text x="1412.5" y="466.8" font-size="10.6" font-weight="400" fill="#9a9aa4" text-anchor="middle" textLength="30.8" lengthAdjust="spacingAndGlyphs">Apr 17</text>
<line x1="1545.8" x2="1545.8" y1="435.5" y2="441.8" stroke="#858594" stroke-width="1.9"/>
<text x="1545.8" y="466.8" font-size="10.6" font-weight="400" fill="#9a9aa4" text-anchor="middle" textLength="33.6" lengthAdjust="spacingAndGlyphs">Apr 23</text>
<line x1="1701.3" x2="1701.3" y1="435.5" y2="441.8" stroke="#858594" stroke-width="1.9"/>
<text x="1701.3" y="466.8" font-size="10.6" font-weight="400" fill="#9a9aa4" text-anchor="middle" textLength="34.7" lengthAdjust="spacingAndGlyphs">Apr 30</text>
<line x1="1856.8" x2="1856.8" y1="435.5" y2="441.8" stroke="#858594" stroke-width="1.9"/>
<text x="1856.8" y="466.8" font-size="10.6" font-weight="400" fill="#9a9aa4" text-anchor="middle" textLength="35.4" lengthAdjust="spacingAndGlyphs">May 07</text>
</g>
</svg>
<div id="tip" class="abs"></div>
<svg viewBox="0 0 1988 1040">
<text x="401.3" y="95.3" font-size="24" font-weight="700" fill="#15152c" text-anchor="start" textLength="71.4" lengthAdjust="spacingAndGlyphs">ROAS</text>
<text x="400.5" y="152.5" font-size="38" font-weight="700" fill="#15152c" text-anchor="start" textLength="160.0" lengthAdjust="spacingAndGlyphs">122.45%</text>
<text x="401.0" y="187.4" font-size="19.5" font-weight="700" fill="#3fb87b" text-anchor="start" textLength="92.8" lengthAdjust="spacingAndGlyphs">+38.04%</text>
<text x="1361.3" y="128.0" font-size="12.6" font-weight="700" fill="#15152c" text-anchor="start" textLength="43.3" lengthAdjust="spacingAndGlyphs">Installs</text>
<text x="1361.0" y="182.7" font-size="24.6" font-weight="700" fill="#15152c" text-anchor="start" textLength="52.0" lengthAdjust="spacingAndGlyphs">1221</text>
<text x="1470.3" y="180.9" font-size="9.6" font-weight="700" fill="#3fb87b" text-anchor="start" textLength="43.0" lengthAdjust="spacingAndGlyphs">+10.04%</text>
<text x="1518.9" y="180.9" font-size="10.6" font-weight="700" fill="#a3a6b6" text-anchor="start" textLength="141.6" lengthAdjust="spacingAndGlyphs">yesterday vs prev Tuesday</text>
<text x="1361.3" y="204.0" font-size="8.8" font-weight="400" fill="#a9a9b3" text-anchor="start" textLength="21.0" lengthAdjust="spacingAndGlyphs">Total</text>
<circle cx="1716.7" cy="122.4" r="6.5" fill="#9b2347"/>
<text x="1729.7" y="127.1" font-size="10.6" font-weight="400" fill="#5c61a6" text-anchor="start" textLength="25.1" lengthAdjust="spacingAndGlyphs">Total</text>
<circle cx="1777.2" cy="122.4" r="6.5" fill="#f6c624"/>
<text x="1789.7" y="127.1" font-size="10.6" font-weight="400" fill="#5c61a6" text-anchor="start" textLength="41.5" lengthAdjust="spacingAndGlyphs">Organic</text>
<circle cx="1853.4" cy="122.4" r="6.5" fill="#5db567"/>
<text x="1866.9" y="127.1" font-size="10.6" font-weight="400" fill="#5c61a6" text-anchor="start" textLength="35.2" lengthAdjust="spacingAndGlyphs">TyrAds</text>
<circle cx="1925.8" cy="122.4" r="6.5" fill="#ea4b46"/>
<text x="1938.8" y="127.1" font-size="10.6" font-weight="400" fill="#5c61a6" text-anchor="start" textLength="30.3" lengthAdjust="spacingAndGlyphs">Adjoe</text>
<text x="1676.1" y="230.4" font-size="12.4" font-weight="700" fill="#15152c" text-anchor="start" textLength="39.3" lengthAdjust="spacingAndGlyphs">Apr 27</text>
<text x="1725.2" y="230.4" font-size="12.4" font-weight="700" fill="#b3b6c6" text-anchor="start" textLength="100.7" lengthAdjust="spacingAndGlyphs">vs prev. Tuesday</text>
<circle cx="1682.7" cy="262.1" r="7.2" fill="#9b2347"/>
<text x="1695.8" y="266.8" font-size="13.2" font-weight="400" fill="#6a6a78" text-anchor="start" textLength="28.8" lengthAdjust="spacingAndGlyphs">Total</text>
<text x="1843.8" y="266.8" font-size="13.2" font-weight="700" fill="#1b1b2e" text-anchor="start" textLength="23.5" lengthAdjust="spacingAndGlyphs">405</text>
<text x="1889.6" y="266.8" font-size="13.2" font-weight="400" fill="#3ea673" text-anchor="start" textLength="53.6" lengthAdjust="spacingAndGlyphs">+10.07%</text>
<circle cx="1682.7" cy="291.6" r="7.2" fill="#f6c624"/>
<text x="1695.8" y="296.3" font-size="13.2" font-weight="400" fill="#6a6a78" text-anchor="start" textLength="46.5" lengthAdjust="spacingAndGlyphs">Organic</text>
<text x="1843.8" y="296.3" font-size="13.2" font-weight="700" fill="#1b1b2e" text-anchor="start" textLength="24.6" lengthAdjust="spacingAndGlyphs">300</text>
<text x="1891.9" y="296.3" font-size="13.2" font-weight="400" fill="#3ea673" text-anchor="start" textLength="50.0" lengthAdjust="spacingAndGlyphs">+12.10%</text>
<circle cx="1682.7" cy="321.3" r="7.2" fill="#5db567"/>
<text x="1695.8" y="326.0" font-size="13.2" font-weight="400" fill="#6a6a78" text-anchor="start" textLength="39.8" lengthAdjust="spacingAndGlyphs">TyrAds</text>
<text x="1858.2" y="326.0" font-size="13.2" font-weight="700" fill="#1b1b2e" text-anchor="start" textLength="14.1" lengthAdjust="spacingAndGlyphs">53</text>
<text x="1896.3" y="326.0" font-size="13.2" font-weight="400" fill="#3ea673" text-anchor="start" textLength="45.2" lengthAdjust="spacingAndGlyphs">+7.20%</text>
<circle cx="1682.7" cy="351.1" r="7.2" fill="#ea4b46"/>
<text x="1695.8" y="355.8" font-size="13.2" font-weight="400" fill="#6a6a78" text-anchor="start" textLength="34.0" lengthAdjust="spacingAndGlyphs">Adjoe</text>
<text x="1860.2" y="355.8" font-size="13.2" font-weight="700" fill="#1b1b2e" text-anchor="start" textLength="12.4" lengthAdjust="spacingAndGlyphs">21</text>
<text x="1896.3" y="355.8" font-size="13.2" font-weight="400" fill="#3ea673" text-anchor="start" textLength="45.2" lengthAdjust="spacingAndGlyphs">+7.20%</text>
</svg>
</body>
</html>
